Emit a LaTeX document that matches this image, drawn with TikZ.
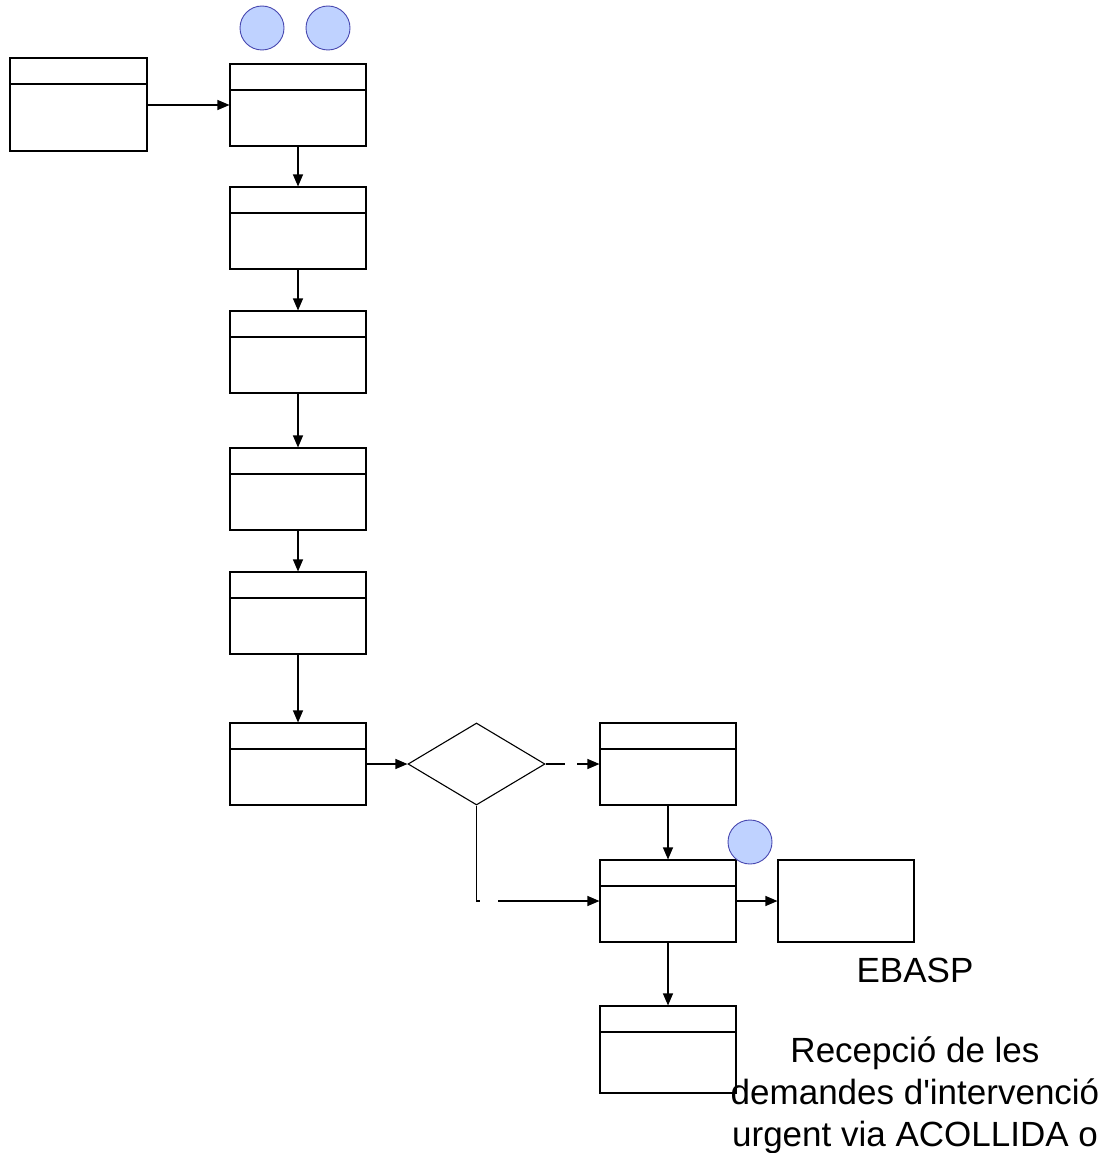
\documentclass[tikz,border=0pt]{standalone}
\usepackage{fontspec}
\setmainfont{Liberation Sans}
\usetikzlibrary{arrows.meta,shapes.geometric}
\definecolor{tokfill}{RGB}{191,210,255}
\definecolor{tokline}{RGB}{72,72,176}
\tikzset{
  lanebox/.style={draw=black, line width=1.1pt, fill=white, inner sep=0pt,
    minimum width=136pt, minimum height=82pt},
  headed/.style={lanebox, path picture={
    \draw[line width=1.1pt] ([yshift=-26pt]path picture bounding box.north west)
      -- ([yshift=-26pt]path picture bounding box.north east);}},
  decision/.style={diamond, draw=black, line width=1.1pt, fill=white, inner sep=0pt,
    minimum width=137pt, minimum height=82pt},
  token/.style={circle, draw=tokline, line width=0.9pt, fill=tokfill, inner sep=0pt,
    minimum size=44pt},
  flow/.style={line width=1.1pt, -{Triangle[length=12pt,width=10pt]}},
  plain/.style={line width=1.1pt},
  caption/.style={anchor=base, inner sep=0pt, font=\fontsize{35}{42}\selectfont}
}
\begin{document}
\begin{tikzpicture}[x=1pt,y=-1pt]
  \useasboundingbox[fill=white] (0,0) rectangle (1112,1153);

  % main column
  \node[headed, minimum width=137pt, minimum height=93pt] (b0) at (78.5,104.5) {};
  \node[headed] (b1) at (298,105) {};
  \node[headed] (b2) at (298,228) {};
  \node[headed] (b3) at (298,352) {};
  \node[headed] (b4) at (298,489) {};
  \node[headed] (b5) at (298,613) {};
  \node[headed] (b6) at (298,764) {};

  % branch
  \node[decision] (dia) at (476.5,764) {};
  \node[headed] (b7) at (668,764) {};
  \node[headed] (b8) at (668,901) {};
  \node[lanebox] (b9) at (846,901) {};
  \node[headed, minimum height=87pt] (b10) at (668,1049.5) {};

  % markers
  \node[token] (t1) at (262,28) {};
  \node[token] (t2) at (328,28) {};
  \node[token] (t3) at (750,842) {};

  % connectors
  \draw[flow] (b0.east |- b1.west) -- (b1.west);
  \draw[flow] (b1) -- (b2);
  \draw[flow] (b2) -- (b3);
  \draw[flow] (b3) -- (b4);
  \draw[flow] (b4) -- (b5);
  \draw[flow] (b5) -- (b6);
  \draw[flow] (b6) -- (dia);

  \coordinate (g1) at (565,764);
  \coordinate (g2) at (577,764);
  \draw[plain] (dia.east) -- (g1);
  \draw[flow] (g2) -- (b7.west);

  \coordinate (c1) at (476.5,901);
  \coordinate (c2) at (480,901);
  \coordinate (c3) at (498,901);
  \draw[plain] (dia.south) -- (c1) -- (c2);
  \draw[flow] (c3) -- (b8.west);

  \draw[flow] (b7) -- (b8);
  \draw[flow] (b8) -- (b9);
  \draw[flow] (b8) -- (b10);

  % labels
  \node[caption] (l1) at (915,982) {EBASP};
  \node[caption] (l2) at (915,1062) {Recepció de les};
  \node[caption] (l3) at (915,1104) {demandes d\textquotesingle intervenció};
  \node[caption] (l4) at (915,1146) {urgent via ACOLLIDA o};
\end{tikzpicture}
\end{document}
